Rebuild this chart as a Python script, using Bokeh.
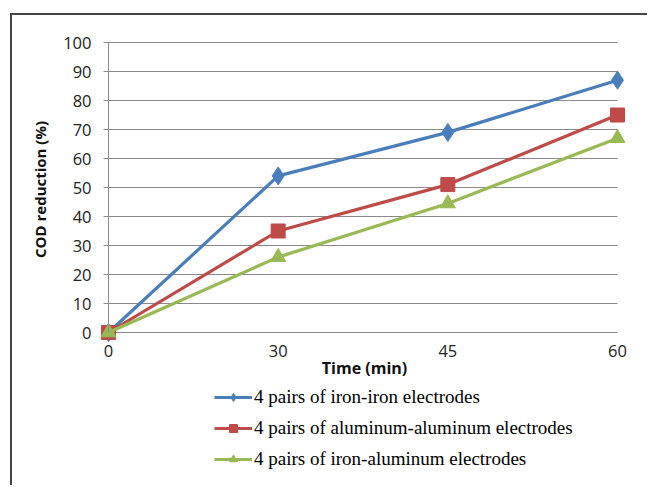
import math
from bokeh.plotting import figure
from bokeh.models import Range1d, FixedTicker, Legend, LegendItem, Label
from bokeh.embed import file_html
from bokeh.resources import INLINE

# data
time_labels = ["0", "30", "45", "60"]
positions = [0, 1, 2, 3]
iron_iron = [0, 54, 69, 87]
al_al = [0, 35, 51, 75]
iron_al = [0, 26, 44.5, 67]
series_names = ["4 pairs of iron-iron electrodes",
                "4 pairs of aluminum-aluminum electrodes",
                "4 pairs of iron-aluminum electrodes"]
colors = ["#4A7EBB", "#BE4B48", "#98B954"]

PX_X = 169.67   # pixels per category step
PX_Y = 2.9      # pixels per percent

p = figure(width=637, height=472, margin=(13, 0, 0, 10),
           styles={"border-top": "2px solid #454545", "border-left": "2px solid #454545"},
           output_backend="svg", toolbar_location=None,
           x_range=Range1d(-(108 - 14) / PX_X, 3 + (647 - 617) / PX_X),
           y_range=Range1d(-(485 - 332) / PX_Y, 100 + (42 - 17) / PX_Y),
           min_border_left=2, min_border_right=2, min_border_top=2, min_border_bottom=2)
p.outline_line_color = None
p.background_fill_color = "white"
p.border_fill_color = "white"

gray = "#8a8a8a"
p.xaxis.fixed_location = 0
p.yaxis.fixed_location = 0
p.xaxis.bounds = (0, 3)
p.yaxis.bounds = (0, 100)
p.xaxis.ticker = FixedTicker(ticks=positions)
p.xaxis.major_label_overrides = {i: t for i, t in zip(positions, time_labels)}
p.yaxis.ticker = FixedTicker(ticks=list(range(0, 101, 10)))
for ax in (p.xaxis[0], p.yaxis[0]):
    ax.major_tick_line_color = None
    ax.minor_tick_line_color = None
    ax.major_tick_out = 0
    ax.major_tick_in = 0
    ax.major_label_text_font = "Open Sans"
    ax.major_label_text_font_size = "16.5px"
    ax.major_label_text_color = "#222222"
p.xaxis.axis_line_color = None
p.yaxis.axis_line_color = gray
p.yaxis.axis_line_width = 1
p.xaxis.major_label_standoff = 12
p.yaxis.major_label_standoff = 17

p.xgrid.grid_line_color = None
p.ygrid.grid_line_color = gray
p.ygrid.grid_line_width = 1
p.ygrid.cross_bounds = (-5 / PX_X, 3)

renderers = []
markers = ["diamond", "square", "triangle"]
sizes = [18, 14, 15]
for ys, c, m, s in zip([iron_iron, al_al, iron_al], colors, markers, sizes):
    l = p.line(positions, ys, line_color=c, line_width=3.2)
    sc = p.scatter(positions, ys, marker=m, size=s, fill_color=c, line_color=c)
    renderers.append([l, sc])

items = [LegendItem(label=n, renderers=r) for n, r in zip(series_names, renderers)]
legend = Legend(items=items, location=(200, 15))
legend.label_text_font = "Liberation Serif"
legend.label_text_font_size = "19px"
legend.label_text_color = "#000000"
legend.glyph_width = 38
legend.glyph_height = 20
legend.label_height = 20
legend.label_standoff = 2
legend.spacing = 9
legend.padding = 0
legend.margin = 0
legend.border_line_color = None
legend.background_fill_alpha = 0
p.add_layout(legend)

p.add_layout(Label(x=(364 - 108) / PX_X, y=-(367 - 332) / PX_Y, text="Time (min)",
                   text_font="Open Sans", text_font_style="bold", text_font_size="16px",
                   text_align="center", text_baseline="middle", text_color="#111111"))
p.add_layout(Label(x=(39.5 - 108) / PX_X, y=(332 - 189) / PX_Y, text="COD reduction (%)",
                   angle=math.pi / 2,
                   text_font="Open Sans", text_font_style="bold", text_font_size="15px",
                   text_align="center", text_baseline="middle", text_color="#111111"))

open("out.html", "w").write(file_html(p, INLINE))
